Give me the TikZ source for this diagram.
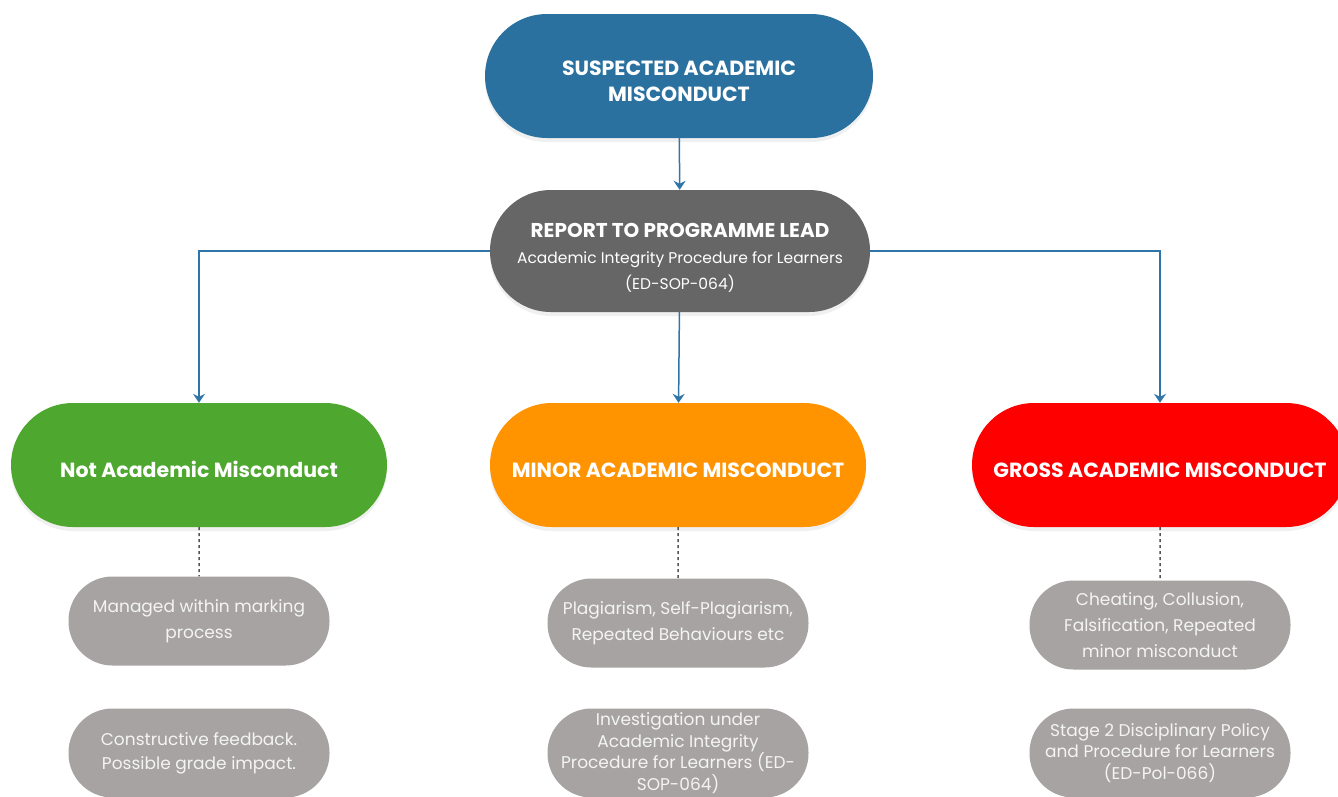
\documentclass[tikz,border=0pt]{standalone}
\usepackage{fontspec}
\setmainfont{Poppins}
\usetikzlibrary{shapes.misc,arrows.meta,shadows}
\definecolor{suspblue}{HTML}{2A71A0}
\definecolor{reportgray}{HTML}{666666}
\definecolor{notgreen}{HTML}{4EA72E}
\definecolor{minororange}{HTML}{FF9300}
\definecolor{grossred}{HTML}{FF0000}
\definecolor{notegray}{HTML}{A6A3A2}
\definecolor{notetext}{HTML}{F4F4F4}
\definecolor{linkblue}{HTML}{2F75A8}
\definecolor{dashgray}{HTML}{555555}

\begin{document}
\begin{tikzpicture}[x=1pt,y=-1pt,
  pill/.style={rounded rectangle,minimum width=376pt,minimum height=124pt,inner sep=0pt,
    text=white,align=center,font=\fontsize{20.5}{26}\selectfont\bfseries,
    drop shadow={opacity=0.12,shadow xshift=0pt,shadow yshift=-4pt}},
  note/.style={rectangle,rounded corners=44pt,fill=notegray,minimum width=261pt,minimum height=89pt,
    inner sep=0pt,text=notetext,align=center,font=\fontsize{17}{26}\selectfont},
  flow/.style={draw=linkblue,line width=1.5pt,-{Stealth[length=9pt,width=12pt,inset=3pt]}},
  link/.style={draw=dashgray,line width=1.5pt,dashed}]
\useasboundingbox (0,0) rectangle (1338,796);
\clip (0,0) rectangle (1338,796);
% Top of the flow
\node[pill,fill=suspblue,minimum width=388pt] (susp) at (679,76)
  {\rule{0pt}{25pt}SUSPECTED ACADEMIC\\MISCONDUCT};
\node[pill,fill=reportgray,minimum width=380pt,minimum height=122pt,
  font=\fontsize{15.5}{26}\selectfont] (report) at (680,251)
  {\rule{0pt}{28pt}{\bfseries\fontsize{20}{26}\selectfont REPORT TO PROGRAMME LEAD}\\
   Academic Integrity Procedure for Learners\\(ED-SOP-064)};
% Three outcomes
\node[pill,fill=notgreen] (notam) at (199,465) {\rule{0pt}{25pt}Not Academic Misconduct};
\node[pill,fill=minororange] (minor) at (678,465) {\rule{0pt}{25pt}MINOR ACADEMIC MISCONDUCT};
\node[pill,fill=grossred] (gross) at (1160,465) {\rule{0pt}{25pt}GROSS ACADEMIC MISCONDUCT};
% Notes under each outcome
\node[note] (managed) at (199,621) {Managed within marking\\process};
\node[note] (plag) at (678,623) {Plagiarism, Self-Plagiarism,\\Repeated Behaviours etc};
\node[note] (cheat) at (1160,625) {Cheating, Collusion,\\Falsification, Repeated\\minor misconduct};
\node[note,font=\fontsize{17}{24}\selectfont] (feedback) at (199,753) {Constructive feedback.\\Possible grade impact.};
\node[note,font=\fontsize{17}{21.5}\selectfont] (invest) at (678,753) {Investigation under\\Academic Integrity\\Procedure for Learners (ED-\\SOP-064)};
\node[note,font=\fontsize{17}{21.5}\selectfont] (stage) at (1160,753) {Stage 2 Disciplinary Policy\\and Procedure for Learners\\(ED-Pol-066)};
% Connectors
\draw[flow] (susp) -- (report);
\draw[flow] (report.west) -| (notam.north);
\draw[flow] (report) -- (minor);
\draw[flow] (report.east) -| (gross.north);
\draw[link] (notam) -- (managed);
\draw[link] (minor) -- (plag);
\draw[link] (gross) -- (cheat);
\end{tikzpicture}
\end{document}
